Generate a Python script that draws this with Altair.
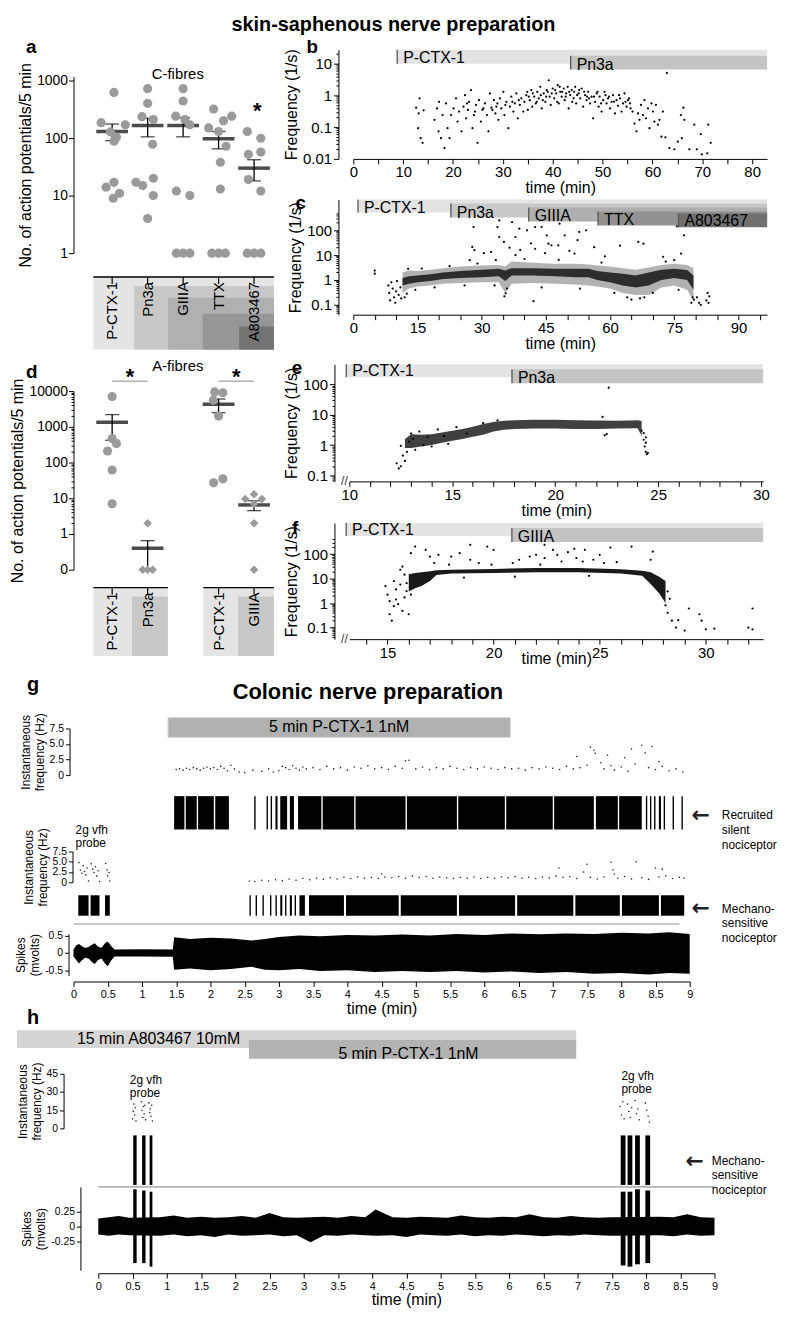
import altair as alt
import pandas as pd

ARIAL = "Liberation Sans, Arial, Helvetica, sans-serif"
ARROWF = "DejaVu Sans, Liberation Sans, sans-serif"

# ============================ DATA ============================
# ---- a: C-fibres, action potentials / 5 min
A_GROUPS = ["P-CTX-1", "Pn3a", "GIIIA", "TTX", "A803467"]
A_CAT = [1] * 10 + [2] * 10 + [3] * 10 + [4] * 11 + [5] * 9
A_JIT = [0.05, -0.31, 0.37, -0.05, 0.12, 0.05, 0.05, -0.17, 0.21, 0.03,
         0.0, 0.0, -0.16, 0.16, 0.14, 0.16, -0.33, -0.14, 0.16, 0.0,
         0.0, 0.0, -0.21, 0.05, 0.19, -0.19, 0.19, -0.19, 0.0, 0.19,
         -0.14, 0.37, 0.14, -0.28, 0.0, 0.21, 0.05, 0.05, -0.19, 0.0, 0.19,
         -0.19, 0.19, 0.19, -0.16, -0.16, 0.19, -0.19, 0.0, 0.19]
A_VAL = [620, 185, 170, 128, 104, 88, 17, 14, 11, 9,
         720, 400, 235, 210, 78, 20, 17, 15, 10, 4,
         720, 440, 240, 210, 170, 12, 10, 1, 1, 1,
         320, 240, 200, 150, 130, 72, 38, 13, 1, 1, 1,
         130, 99, 57, 52, 19, 12, 1, 1, 1]
A_MEAN = [130, 165, 165, 97, 30]
A_HI = [175, 220, 225, 130, 42]
A_LO = [90, 105, 105, 65, 18]

# ---- d: A-fibres
D_CAT = [1] * 6 + [2] * 4 + [4] * 6 + [5] * 6
D_JIT = [0, 0, 0.12, -0.13, 0, 0,
         0, -0.14, 0, 0.14,
         -0.11, 0.12, -0.15, 0, 0.12, -0.14,
         0, -0.25, 0.22, 0, 0, 0]
D_VAL = [7000, 470, 340, 210, 62, 7,
         2, 0, 0, 0,
         9500, 9000, 5500, 2000, 35, 27,
         13, 9.5, 9.5, 7, 2, 0]
D_MCAT = [1, 2, 4, 5]
D_LABELS = ["P-CTX-1", "Pn3a", "P-CTX-1", "GIIIA"]
D_MEAN = [1350, 0.4, 4300, 6.5]
D_HI = [2200, 0.65, 6000, 8.5]
D_LO = [420, 0, 2500, 4.5]

# ---- b: single C-fibre, frequency (1/s) vs time (min)
B_TREAT = ["P-CTX-1", "Pn3a"]
B_START = [8.8, 43.6]
B_PTS = [(12.6, 0.41), (13.3, 0.81), (13.1, 0.27), (13.0, 0.093), (13.5, 0.045), (13.9, 0.032), (14.1, 0.34),
         (16.3, 0.17), (16.8, 0.39), (17.1, 0.074), (17.2, 0.63), (17.6, 0.045), (17.9, 0.24), (18.3, 0.022),
         (18.6, 0.56), (18.9, 0.093), (19.3, 0.045), (19.6, 0.24), (20.1, 0.39), (20.6, 0.81), (20.9, 0.15),
         (21.2, 0.31), (21.7, 0.074), (22.1, 0.44), (22.4, 1.02), (22.6, 0.19), (23.0, 0.35), (23.2, 0.63),
         (23.6, 1.47), (23.9, 0.093), (24.2, 0.24), (24.6, 0.5), (24.9, 0.032), (25.2, 0.71), (25.6, 0.15),
         (25.9, 0.35), (26.4, 0.56), (26.8, 0.24), (27.1, 0.074), (27.4, 1.15), (27.7, 0.41), (28.2, 0.71),
         (28.5, 0.27), (28.9, 0.56), (29.1, 0.17), (29.4, 0.81), (29.7, 0.39), (30.1, 1.3), (30.3, 0.24),
         (30.7, 0.63), (31.1, 0.093), (31.4, 0.44), (31.7, 0.91), (32.1, 0.31), (32.4, 0.56), (32.7, 1.15),
         (33.0, 0.19), (33.4, 0.5), (33.7, 0.81), (34.1, 0.31), (34.3, 0.63), (34.7, 1.02), (35.0, 0.35),
         (35.4, 0.71), (35.7, 1.47), (35.9, 0.44), (36.3, 0.91), (36.6, 0.56), (36.9, 1.3), (37.2, 0.81),
         (37.5, 1.87), (37.8, 0.39), (38.2, 1.15), (38.5, 0.63), (38.8, 1.47), (39.2, 3.0), (39.4, 0.91),
         (39.6, 0.5), (40.0, 1.65), (40.3, 0.81), (40.7, 1.15), (41.0, 2.1), (41.2, 0.56), (41.5, 1.3),
         (41.8, 0.91), (42.2, 1.65), (42.4, 0.71), (42.7, 1.15), (43.0, 1.87), (43.2, 0.39), (43.5, 1.02),
         (43.8, 1.47), (44.2, 0.81), (44.5, 1.87), (44.7, 0.56), (45.2, 1.15), (45.5, 0.81), (45.8, 1.65),
         (46.1, 0.44), (46.5, 1.02), (46.8, 0.71), (47.1, 1.3), (47.5, 0.56), (47.8, 0.91), (48.1, 0.19),
         (48.5, 0.63), (48.8, 1.15), (49.2, 0.44), (49.4, 0.91), (49.8, 0.31), (50.1, 0.71), (50.4, 1.3),
         (50.8, 0.56), (51.1, 0.81), (51.5, 0.39), (51.8, 0.63), (52.1, 1.02), (52.5, 0.27), (52.8, 0.71),
         (53.1, 0.47), (53.5, 0.81), (53.8, 0.31), (54.1, 0.56), (54.4, 1.15), (54.8, 0.44), (55.1, 0.71),
         (55.3, 0.81), (55.6, 0.39), (56.0, 0.31), (56.4, 0.13), (56.8, 0.074), (57.1, 0.27), (57.4, 0.17),
         (57.7, 0.5), (58.1, 0.24), (58.4, 0.71), (58.7, 0.19), (59.1, 0.39), (59.4, 0.093), (59.8, 0.56),
         (60.1, 0.31), (60.4, 0.15), (60.7, 0.5), (61.1, 0.12), (61.4, 0.17), (61.8, 0.05), (62.1, 0.31),
         (62.6, 0.048), (62.9, 5.1), (63.4, 0.022), (64.4, 0.02), (65.1, 0.035), (65.7, 0.24), (66.2, 0.41),
         (66.4, 0.17), (65.9, 0.045), (67.4, 0.02), (68.4, 0.12), (68.9, 0.02), (69.7, 0.06), (69.9, 0.014),
         (71.0, 0.015), (71.2, 0.12), (71.7, 0.032),
         (34.9, 1.3), (35.2, 0.91), (36.0, 1.15), (36.8, 0.63), (37.6, 1.02), (38.0, 0.71), (38.7, 0.91),
         (39.0, 1.3), (39.8, 1.15), (40.5, 1.47), (40.9, 0.63), (41.4, 1.87), (41.9, 1.3), (42.6, 0.91),
         (43.3, 1.3), (43.9, 0.63), (44.3, 1.3), (44.9, 1.02), (45.3, 1.47), (46.3, 1.3), (46.9, 0.91),
         (47.3, 0.81), (48.3, 0.91), (49.0, 1.3), (49.7, 0.56), (50.6, 1.02), (51.3, 0.91), (52.3, 0.63),
         (53.3, 1.02), (54.6, 0.63), (55.5, 0.56), (30.5, 0.5), (31.9, 0.63), (33.2, 0.71), (28.7, 0.44),
         (27.9, 0.35), (26.1, 0.39), (24.4, 0.31), (22.8, 0.56)]

# ---- c: single C-fibre through five toxins
C_TREAT = ["P-CTX-1", "Pn3a", "GIIIA", "TTX", "A803467"]
C_START = [1.1, 22.8, 41.0, 57.2, 76.0]
# dense firing band: time, outer low, outer high, core low, core high
C_BAND = [(11.5, 0.3, 2.0, 0.6, 1.2), (13, 0.45, 2.4, 0.7, 1.4), (15, 0.55, 2.3, 0.8, 1.5),
          (18, 0.6, 2.6, 0.9, 1.7), (21, 0.7, 3.0, 1.1, 2.0), (25, 0.75, 3.5, 1.2, 2.3),
          (30, 0.8, 3.8, 1.3, 2.6), (34, 0.8, 4.0, 1.4, 2.8), (35.5, 0.3, 3.5, 0.9, 2.4),
          (37, 0.7, 5.5, 1.5, 3.0), (42, 0.75, 5.0, 1.5, 3.0), (47, 0.7, 4.5, 1.4, 2.8),
          (52, 0.65, 4.5, 1.3, 2.8), (55, 0.6, 4.2, 1.3, 2.8), (57, 0.55, 3.8, 1.0, 2.3),
          (60, 0.45, 3.5, 0.8, 2.0), (63, 0.3, 3.0, 0.6, 1.8), (66, 0.25, 2.6, 0.5, 1.5),
          (69, 0.25, 3.2, 0.6, 2.0), (72, 0.5, 4.0, 1.0, 2.6), (75, 0.6, 4.5, 1.2, 2.8),
          (78, 0.4, 4.0, 1.0, 2.5), (79.5, 0.15, 3.0, 0.4, 1.5)]
C_PTS = [(5.0, 2.4), (5.0, 1.8), (8.2, 0.6), (8.4, 0.3), (8.6, 0.15), (8.9, 0.8), (9.2, 0.45), (9.5, 0.2),
         (9.8, 0.12), (10.0, 0.35), (10.2, 0.9), (10.6, 0.25), (11.0, 0.5), (11.2, 0.18), (12.0, 0.2),
         (12.5, 0.28), (12.8, 2.8), (14.5, 0.4), (16.0, 2.9), (19.0, 0.5), (22.5, 3.6), (26.0, 0.6),
         (29.0, 4.6), (33.0, 0.6), (35.3, 0.22), (35.6, 0.29), (35.9, 0.45), (40.0, 7.0), (44.0, 0.5),
         (48.0, 6.5), (53.0, 0.45), (58.0, 5.0), (61.0, 0.3), (64.0, 0.2), (65.0, 0.16), (67.0, 0.18),
         (68.0, 0.2), (70.0, 0.3), (73.0, 5.5), (76.0, 0.4), (79.0, 0.12), (79.3, 0.2), (79.6, 0.16),
         (27.8, 21.5), (28.3, 15.8), (28.1, 136), (32.2, 13.6), (33.7, 136), (34.1, 250), (37.1, 215),
         (35.2, 34), (37.9, 54), (38.8, 117), (40.6, 100), (42.5, 136), (44.0, 136), (45.2, 63),
         (45.6, 29), (46.3, 25), (47.9, 25), (48.2, 185), (49.4, 63), (52.8, 86), (52.4, 40), (54.4, 100),
         (56.3, 21), (62.3, 24), (66.6, 34), (67.8, 29), (75.6, 145), (77.3, 63), (76.6, 11.6), (34.1, 54),
         (39.0, 16), (42.5, 18), (37.9, 10), (33.3, 6.3), (27.2, 6.3), (51.7, 11.6), (72.4, 8.6),
         (75.0, 6.3), (42.1, 0.14), (30.5, 12), (36.5, 20), (41.5, 30), (44.8, 12), (50.5, 15), (58.8, 9),
         (80.3, 0.2), (80.8, 0.12), (81.2, 0.1), (82.5, 0.15), (82.8, 0.3), (83.0, 0.12), (83.2, 0.22)]

# ---- e: A-fibre, P-CTX-1 then Pn3a
E_TREAT = ["P-CTX-1", "Pn3a"]
E_START = [9.85, 17.9]
E_BAND = [(12.7, 0.8, 1.6), (13.0, 0.8, 2.3), (13.5, 0.9, 2.2), (14.0, 1.0, 2.3), (14.5, 1.2, 2.6),
          (15.0, 1.4, 3.0), (15.5, 1.6, 3.4), (16.0, 1.9, 4.0), (16.5, 2.2, 5.0), (17.0, 2.8, 5.8),
          (17.5, 3.2, 6.3), (18.0, 3.4, 6.6), (19.0, 3.5, 6.8), (20.0, 3.5, 6.8), (21.0, 3.4, 6.6),
          (22.0, 3.4, 6.5), (23.0, 3.5, 6.4), (24.0, 3.6, 6.6), (24.2, 2.0, 6.2)]
E_PTS = [(12.3, 0.25), (12.4, 0.17), (12.5, 0.2), (12.6, 0.45), (12.7, 0.3), (12.5, 0.95), (12.9, 1.3),
         (13.2, 0.7), (13.0, 2.4), (13.4, 2.8), (13.6, 1.0), (14.3, 3.3), (15.2, 3.9), (14.0, 0.9),
         (14.8, 1.1), (22.6, 78), (22.3, 8.5), (22.4, 2.1), (22.5, 2.3), (24.3, 1.5), (24.35, 0.9),
         (24.4, 0.6), (24.45, 0.5), (24.3, 2.5), (24.4, 1.2), (24.5, 0.55), (24.2, 3.0), (24.4, 1.8),
         (16.5, 5.3), (17.2, 6.5), (12.8, 0.6), (13.1, 1.6), (13.8, 1.9), (14.6, 2.0), (15.7, 2.4)]

# ---- f: A-fibre, P-CTX-1 then GIIIA
F_TREAT = ["P-CTX-1", "GIIIA"]
F_START = [13.05, 20.86]
F_BAND = [(16.0, 3.0, 15), (16.3, 4.0, 17), (16.6, 5.0, 18), (17.0, 8.0, 20), (17.3, 14, 22), (18.0, 16, 23),
          (20.0, 17, 25), (22.0, 18, 27), (24.0, 18, 27), (26.0, 16, 24), (27.0, 13, 21), (27.4, 6, 18),
          (27.8, 2.5, 12), (28.1, 1.0, 8)]
F_PTS = [(14.9, 4.9), (15.0, 2.2), (15.1, 1.2), (15.1, 0.35), (15.2, 0.19), (15.3, 0.75), (15.4, 3.6),
         (15.4, 1.4), (15.6, 5.7), (15.7, 0.48), (15.8, 14.5), (15.9, 3.1), (16.0, 0.35), (15.7, 31),
         (15.6, 23), (15.8, 1.7), (15.5, 0.9), (15.3, 8), (15.9, 6.5), (16.1, 2.2),
         (16.1, 110), (16.3, 205), (16.8, 150), (17.0, 80), (17.4, 94), (17.2, 43), (18.0, 80), (17.9, 37),
         (18.4, 110), (18.9, 240), (18.9, 59), (19.3, 43), (19.7, 205), (20.0, 150), (19.9, 37), (20.9, 43),
         (21.2, 59), (21.7, 80), (22.0, 94), (22.2, 37), (22.4, 69), (22.4, 240), (22.8, 150), (23.0, 94),
         (23.2, 50), (23.5, 120), (23.8, 165), (23.9, 69), (24.2, 50), (24.3, 150), (24.7, 59), (25.0, 94),
         (25.2, 43), (25.5, 185), (25.8, 47), (26.5, 205), (27.5, 128), (27.4, 59), (18.6, 11), (21.0, 12),
         (24.5, 13), (28.2, 0.4), (28.4, 0.19), (28.6, 0.1), (28.7, 0.2), (29.2, 0.6), (29.7, 0.35),
         (29.8, 0.19), (30.0, 0.085), (30.4, 0.09), (32.0, 0.1), (32.2, 0.085), (32.2, 0.6), (29.0, 0.075),
         (28.3, 1.5), (28.1, 0.8), (28.2, 3.0)]

# ---- g: colonic nerve, P-CTX-1 1nM
G_TREAT = "5 min P-CTX-1 1nM"
G_TREAT_T = (1.38, 6.38)
G1_PTS = [(1.5, 0.9), (1.55, 1.0), (1.6, 0.8), (1.65, 1.1), (1.7, 0.9), (1.75, 1.2), (1.8, 1.0), (1.85, 0.8),
          (1.9, 1.1), (1.95, 1.3), (2.0, 1.0), (2.05, 1.2), (2.1, 0.9), (2.15, 1.4), (2.2, 1.1), (2.25, 0.7),
          (2.3, 1.6), (2.35, 1.0), (2.42, 0.5), (2.5, 0.4), (2.62, 0.8), (2.75, 0.6), (2.85, 1.0), (2.92, 0.5),
          (3.0, 0.7), (3.05, 1.4), (3.1, 1.2), (3.15, 0.9), (3.2, 1.5), (3.25, 1.1), (3.3, 0.8), (3.35, 1.3),
          (3.4, 1.0), (3.5, 1.2), (3.6, 0.9), (3.7, 1.4), (3.8, 1.0), (3.9, 1.2), (4.0, 0.8), (4.1, 1.3),
          (4.2, 1.1), (4.3, 1.5), (4.4, 1.0), (4.5, 1.2), (4.6, 0.9), (4.7, 1.4), (4.8, 1.1), (4.85, 2.3),
          (4.9, 2.4), (5.0, 1.0), (5.1, 1.3), (5.2, 0.9), (5.3, 1.2), (5.4, 1.0), (5.5, 1.4), (5.6, 1.1),
          (5.7, 0.9), (5.8, 1.2), (5.9, 1.0), (6.0, 1.3), (6.1, 1.1), (6.2, 0.9), (6.3, 1.2), (6.4, 1.0),
          (6.5, 1.1), (6.6, 0.8), (6.7, 1.2), (6.8, 1.0), (6.9, 1.3), (7.0, 1.1), (7.1, 0.9), (7.2, 1.4),
          (7.3, 1.0), (7.35, 3.0), (7.4, 1.2), (7.5, 1.6), (7.55, 4.5), (7.6, 4.0), (7.62, 3.5), (7.7, 2.0),
          (7.75, 1.0), (7.8, 3.2), (7.85, 1.5), (7.9, 0.8), (8.0, 1.3), (8.05, 2.8), (8.1, 0.6), (8.15, 4.2),
          (8.2, 1.8), (8.3, 4.8), (8.35, 3.6), (8.4, 1.2), (8.45, 4.6), (8.5, 0.9), (8.55, 2.2), (8.6, 1.4),
          (8.7, 0.7), (8.8, 1.0), (8.9, 0.5)]
G1_SPIKES = [(1.47, 1.62), (1.64, 1.80), (1.82, 2.05), (2.07, 2.27), (2.64, 2.66), (2.82, 2.84), (2.88, 2.90),
             (2.95, 2.98), (3.02, 3.12), (3.16, 3.22), (3.28, 3.62), (3.64, 4.10), (4.12, 4.85), (4.87, 5.60),
             (5.62, 6.30), (6.32, 7.00), (7.02, 7.60), (7.63, 7.95), (7.97, 8.30), (8.36, 8.38), (8.42, 8.44),
             (8.48, 8.50), (8.55, 8.58), (8.62, 8.64), (8.75, 8.77), (8.88, 8.90)]
G2_PTS = [(0.08, 4.8), (0.1, 3.0), (0.12, 2.2), (0.14, 4.0), (0.16, 2.6), (0.18, 1.8), (0.2, 3.5), (0.22, 0.3),
          (0.26, 4.5), (0.28, 3.2), (0.3, 2.4), (0.32, 3.8), (0.34, 1.5), (0.36, 2.8), (0.38, 0.2), (0.47, 4.6),
          (0.49, 3.0), (0.5, 1.6), (0.52, 2.4), (0.53, 0.3),
          (2.57, 0.3), (2.65, 0.2), (2.75, 0.5), (2.85, 0.3), (2.95, 0.6), (3.05, 0.4), (3.15, 0.8), (3.25, 0.5),
          (3.35, 0.9), (3.45, 0.6), (3.55, 1.0), (3.65, 0.7), (3.75, 1.1), (3.85, 0.8), (3.95, 1.2), (4.05, 0.9),
          (4.15, 1.3), (4.25, 1.0), (4.35, 1.2), (4.45, 0.9), (4.5, 2.0), (4.55, 1.3), (4.65, 1.1), (4.75, 1.4),
          (4.85, 1.0), (4.95, 1.5), (5.05, 1.2), (5.15, 1.4), (5.25, 1.0), (5.35, 1.3), (5.45, 1.1), (5.55, 0.9),
          (5.65, 1.2), (5.75, 1.0), (5.85, 1.3), (5.95, 0.9), (6.05, 1.2), (6.15, 1.0), (6.25, 1.3), (6.35, 1.1),
          (6.45, 1.4), (6.55, 1.0), (6.65, 1.2), (6.75, 0.9), (6.85, 1.3), (6.95, 1.1), (7.05, 1.5), (7.09, 3.5),
          (7.15, 1.2), (7.25, 1.4), (7.35, 0.9), (7.45, 2.5), (7.5, 4.4), (7.55, 1.2), (7.65, 0.8), (7.75, 1.3),
          (7.85, 4.9), (7.88, 3.0), (7.9, 2.0), (7.95, 1.0), (8.05, 1.4), (8.15, 0.8), (8.22, 5.0), (8.3, 1.1),
          (8.4, 0.7), (8.5, 3.5), (8.55, 1.3), (8.6, 3.2), (8.65, 1.6), (8.75, 0.9), (8.85, 1.2), (8.92, 1.0)]
G2_SPIKES = [(0.07, 0.22), (0.25, 0.38), (0.46, 0.53), (2.57, 2.59), (2.66, 2.68), (2.76, 2.78), (2.87, 2.89),
             (2.95, 2.97), (3.02, 3.05), (3.09, 3.11), (3.16, 3.19), (3.23, 3.25), (3.30, 3.38), (3.44, 3.95),
             (3.98, 4.75), (4.78, 5.60), (5.63, 6.45), (6.48, 7.30), (7.33, 7.98), (8.01, 8.55), (8.58, 8.92)]
# raw trace envelope: time, min, max (mV)
G_TRACE = [(0.00, -0.10, 0.10), (0.04, -0.20, 0.22), (0.08, -0.30, 0.26), (0.12, -0.22, 0.20), (0.17, -0.14, 0.14),
           (0.22, -0.16, 0.17), (0.27, -0.26, 0.24), (0.31, -0.32, 0.28), (0.36, -0.20, 0.18), (0.41, -0.16, 0.15),
           (0.46, -0.30, 0.28), (0.50, -0.38, 0.33), (0.55, -0.22, 0.20), (0.60, -0.10, 0.10), (1.00, -0.10, 0.11),
           (1.45, -0.11, 0.10), (1.47, -0.48, 0.45), (1.7, -0.45, 0.40), (2.0, -0.50, 0.44), (2.3, -0.46, 0.42),
           (2.6, -0.40, 0.36), (2.8, -0.48, 0.40), (3.0, -0.50, 0.46), (3.3, -0.46, 0.50), (3.6, -0.52, 0.48),
           (4.0, -0.50, 0.52), (4.4, -0.55, 0.50), (4.8, -0.52, 0.53), (5.2, -0.55, 0.50), (5.6, -0.52, 0.55),
           (6.0, -0.56, 0.52), (6.4, -0.53, 0.56), (6.8, -0.58, 0.54), (7.2, -0.55, 0.56), (7.6, -0.60, 0.55),
           (8.0, -0.58, 0.58), (8.4, -0.62, 0.56), (8.7, -0.58, 0.60), (9.0, -0.60, 0.55)]

# ---- h: colonic nerve, A803467 then P-CTX-1
H_TREAT = ["15 min A803467 10mM", "5 min P-CTX-1 1nM"]
H_TREAT_T = [(-1.19, 6.98), (2.2, 6.98)]
H_PTS = [(0.50, 8), (0.51, 14), (0.52, 20), (0.53, 11), (0.54, 17), (0.55, 6), (0.63, 22), (0.64, 15), (0.65, 9),
         (0.66, 18), (0.67, 12), (0.68, 19), (0.69, 7), (0.74, 21), (0.75, 13), (0.76, 16), (0.77, 10), (0.78, 19),
         (0.79, 6), (7.62, 18), (7.64, 11), (7.66, 22), (7.68, 8), (7.73, 20), (7.75, 14), (7.77, 9), (7.79, 17),
         (7.84, 23), (7.86, 12), (7.88, 16), (7.90, 7), (7.99, 21), (8.01, 15), (8.03, 10), (8.05, 5)]
H_SPIKES = [(0.51, 0.56), (0.64, 0.69), (0.75, 0.79), (7.63, 7.70), (7.73, 7.80), (7.84, 7.91), (7.99, 8.06)]
H_BURST_LO = [-0.62, -0.62, -0.68, -0.66, -0.68, -0.64, -0.62]
H_BURST_HI = [0.62, 0.60, 0.58, 0.58, 0.58, 0.62, 0.60]
H_TRACE = [(0.00, -0.14, 0.13), (0.15, -0.16, 0.15), (0.30, -0.14, 0.17), (0.45, -0.15, 0.14), (0.90, -0.16, 0.15),
           (1.10, -0.14, 0.18), (1.30, -0.17, 0.14), (1.50, -0.15, 0.16), (1.70, -0.18, 0.14), (1.90, -0.14, 0.15),
           (2.10, -0.16, 0.17), (2.30, -0.15, 0.14), (2.50, -0.14, 0.22), (2.70, -0.17, 0.15), (2.90, -0.15, 0.14),
           (3.10, -0.27, 0.15), (3.30, -0.15, 0.16), (3.50, -0.16, 0.14), (3.70, -0.14, 0.17), (3.90, -0.15, 0.15),
           (4.05, -0.16, 0.28), (4.30, -0.15, 0.15), (4.50, -0.18, 0.14), (4.70, -0.14, 0.16), (4.90, -0.15, 0.15),
           (5.10, -0.16, 0.14), (5.30, -0.14, 0.18), (5.50, -0.17, 0.15), (5.70, -0.15, 0.14), (5.90, -0.16, 0.16),
           (6.10, -0.14, 0.15), (6.30, -0.15, 0.20), (6.50, -0.17, 0.15), (6.70, -0.15, 0.14), (6.90, -0.16, 0.17),
           (7.10, -0.14, 0.15), (7.30, -0.15, 0.14), (7.50, -0.16, 0.15), (8.20, -0.15, 0.16), (8.40, -0.17, 0.15),
           (8.60, -0.14, 0.20), (8.80, -0.16, 0.15), (9.00, -0.15, 0.14)]

# ============================ helpers ============================
MAJ = "abs(log(datum.value)/LN10 - round(log(datum.value)/LN10)) < 0.01"


def style(font=ARIAL, ls=15, ts=16):
    return dict(labelFont=font, labelFontSize=ls, labelColor="black", titleFont=font, titleFontSize=ts,
                titleFontWeight="normal", titleColor="black", domainColor="black", tickColor="black",
                grid=False, labelOverlap=False, labelFlush=False)


def log_vals(lo, hi):
    out = []
    for k in range(-3, 5):
        for m in range(1, 10):
            v = round(m * 10.0 ** k, 6)
            if lo <= v <= hi:
                out.append(v)
    return out


def log_axis(lo, hi, title, offset=15):
    return alt.Axis(values=log_vals(lo, hi), format="~g", labelExpr=f"({MAJ}) ? datum.label : ''",
                    tickSize={"condition": {"test": MAJ, "value": 5}, "value": 2.5},
                    title=title, offset=offset, titlePadding=3, labelPadding=2, **style(ARIAL, 15, 16))


def time_axis(vals, every, tpad):
    return alt.Axis(values=vals, format="~g", labelExpr=f"datum.value % {every} == 0 ? datum.label : ''",
                    title="time (min)", tickSize=5, labelPadding=1, titlePadding=tpad, **style(ARIAL, 15, 16))


def cols(pts):
    return [p[0] for p in pts], [p[1] for p in pts]


def spacer(w, h):
    sc = alt.Scale(domain=[0, 1])
    return alt.Chart(pd.DataFrame({"s": [0.5]})).mark_point(opacity=0, size=1).encode(
        x=alt.X("s:Q", axis=None, scale=sc), y=alt.Y("s:Q", axis=None, scale=sc)).properties(width=w, height=h)


def text_layer(x, y, txt, **kw):
    def f(X, Y):
        df = pd.DataFrame({"x": [x], "y": [y], "t": [txt]})
        return alt.Chart(df).mark_text(**kw).encode(x=X("x"), y=Y("y"), text="t:N")
    return f


def rule_layer(x0, x1, y, **kw):
    def f(X, Y):
        df = pd.DataFrame({"x": [x0], "x1": [x1], "y": [y]})
        return alt.Chart(df).mark_rule(**kw).encode(x=X("x"), x2="x1", y=Y("y"))
    return f


def rect_layer(x0s, x1s, y0s, y1s, col, **kw):
    def f(X, Y):
        df = pd.DataFrame({"x0": x0s, "x1": x1s, "y0": y0s, "y1": y1s})
        return alt.Chart(df).mark_rect(color=col, **kw).encode(x=X("x0"), x2="x1", y=Y("y0"), y2="y1")
    return f


# ============================ panels a & d (dot plots) ============================
CATX = alt.Scale(domain=[-0.09, 5.56], nice=False, zero=False)


def dot_panel(cats, jits, vals, mcat, mean, hi, lo, ydom, yvals, label_expr, height, extra, diamonds=()):
    ys = alt.Scale(type="log", domain=ydom, nice=False)
    yax = alt.Axis(values=yvals, format="~g", labelExpr=label_expr,
                   tickSize={"condition": {"test": MAJ, "value": 5}, "value": 2.5},
                   title="No. of action potentials/5 min", titlePadding=3, labelPadding=1,
                   **style(ARIAL, 14, 16))
    X = lambda f: alt.X(f, type="quantitative", scale=CATX, axis=None)
    Y = lambda f: alt.Y(f, type="quantitative", scale=ys, axis=yax)
    pts = pd.DataFrame({"cat": cats, "jit": jits, "v": vals,
                        "shape": ["diamond" if c in diamonds else "circle" for c in cats]})
    base = alt.Chart(pts).transform_calculate(px="datum.cat + datum.jit",
                                              pv="datum.v == 0 ? 0.1 : datum.v")
    circ = base.transform_filter("datum.shape == 'circle'").mark_point(
        shape="circle", filled=True, size=85, color="#9a9a9a", opacity=1).encode(x=X("px"), y=Y("pv"))
    diam = base.transform_filter("datum.shape == 'diamond'").mark_point(
        shape="diamond", filled=True, size=75, color="#9a9a9a", opacity=1).encode(x=X("px"), y=Y("pv"))
    st = pd.DataFrame({"cat": mcat, "m": mean, "hi": hi, "lo": lo})
    stb = alt.Chart(st).transform_calculate(lo2="datum.lo == 0 ? 0.1 : datum.lo")
    err = stb.mark_rule(color="black", strokeWidth=1.3).encode(x=X("cat"), y=Y("lo2"), y2="hi")
    caph = stb.mark_tick(orient="horizontal", size=14, thickness=1.3, color="black").encode(x=X("cat"), y=Y("hi"))
    capl = stb.mark_tick(orient="horizontal", size=14, thickness=1.3, color="black").encode(x=X("cat"), y=Y("lo2"))
    mline = stb.mark_tick(orient="horizontal", size=32, thickness=3.5, color="black").encode(x=X("cat"), y=Y("m"))
    layers = [err, caph, capl, mline, circ, diam] + [e(X, Y) for e in extra]
    return alt.layer(*layers).properties(width=202, height=height)


a_chart = dot_panel(
    A_CAT, A_JIT, A_VAL, [1, 2, 3, 4, 5], A_MEAN, A_HI, A_LO, [1, 1170], [1, 10, 100, 1000],
    "datum.label", 178,
    [text_layer(2.85, 1300, "C-fibres", fontSize=15, font=ARIAL, baseline="middle"),
     text_layer(5.09, 290, "*", fontSize=22, font=ARIAL, fontWeight="bold", baseline="middle"),
     text_layer(-1.43, 3855, "a", fontSize=19, font=ARIAL, fontWeight="bold", align="left", baseline="middle")])

d_chart = dot_panel(
    D_CAT, D_JIT, D_VAL, D_MCAT, D_MEAN, D_HI, D_LO, [0.1, 10000], [0.1] + log_vals(1, 10000),
    f"datum.value < 0.5 ? '0' : (({MAJ}) ? datum.label : '')", 180,
    [text_layer(2.85, 49400, "A-fibres", fontSize=15, font=ARIAL, baseline="middle"),
     rule_layer(1, 2, 19000, color="#888888", strokeWidth=1),
     rule_layer(4, 5, 19000, color="#888888", strokeWidth=1),
     text_layer(1.5, 25000, "*", fontSize=22, font=ARIAL, fontWeight="bold", baseline="middle"),
     text_layer(4.5, 25000, "*", fontSize=22, font=ARIAL, fontWeight="bold", baseline="middle"),
     text_layer(-1.43, 35240, "d", fontSize=19, font=ARIAL, fontWeight="bold", align="left", baseline="middle")],
    diamonds=(2, 5))


def box_panel(x0s, x1s, tops, colors, labels, label_x, height, axis_segments):
    ys = alt.Scale(domain=[height, 0], nice=False, zero=False)
    X = lambda f: alt.X(f, type="quantitative", scale=CATX, axis=None)
    Y = lambda f: alt.Y(f, type="quantitative", scale=ys, axis=None)
    bx = pd.DataFrame({"x0": x0s, "x1": x1s, "y0": tops, "y1": [height] * len(x0s), "col": colors})
    rects = alt.Chart(bx).mark_rect().encode(x=X("x0"), x2="x1", y=Y("y0"), y2="y1",
                                             color=alt.Color("col:N", scale=None))
    sg = pd.DataFrame({"x0": [s[0] for s in axis_segments], "x1": [s[1] for s in axis_segments],
                       "y": [0] * len(axis_segments)})
    line = alt.Chart(sg).mark_rule(color="black", strokeWidth=1.3).encode(x=X("x0"), x2="x1", y=Y("y"))
    lb = pd.DataFrame({"x": label_x, "lab": labels, "y0": [0] * len(labels), "y1": [7] * len(labels),
                       "ly": [5] * len(labels)})
    ticks = alt.Chart(lb).mark_rule(color="black", strokeWidth=1.2).encode(x=X("x"), y=Y("y0"), y2="y1")
    txt = alt.Chart(lb).mark_text(angle=270, align="right", baseline="middle", fontSize=15, font=ARIAL,
                                  color="black").encode(x=X("x"), y=Y("ly"), text="lab:N")
    return alt.layer(rects, line, ticks, txt).properties(width=202, height=height)


a_boxes = box_panel([0.47, 1.62, 2.58, 3.55, 4.58], [5.56] * 5, [0, 9, 21, 37, 50],
                    ["#e4e4e4", "#c8c8c8", "#b0b0b0", "#969696", "#737373"], A_GROUPS, [1, 2, 3, 4, 5], 73,
                    [(0.47, 5.56)])
d_boxes = box_panel([0.47, 1.56, 3.57, 4.55], [2.57, 2.57, 5.56, 5.56], [0, 9, 0, 9],
                    ["#e4e4e4", "#c8c8c8", "#e4e4e4", "#c8c8c8"], D_LABELS, D_MCAT, 69,
                    [(0.47, 2.57), (3.57, 5.56)])


# ============================ panels b, c, e, f (frequency vs time) ============================
def freq_panel(xdom, ydom, height, yrng, xvals, every, pts, treat, starts, geo, letter,
               band=None, band_op=0.8, core=None, tpad=0, brk=False):
    xs = alt.Scale(domain=xdom, nice=False, zero=False)
    ys = alt.Scale(type="log", domain=ydom, nice=False)
    yax = log_axis(yrng[0], yrng[1], "Frequency (1/s)")
    xax = time_axis(xvals, every, tpad)
    X = lambda f: alt.X(f, type="quantitative", scale=xs, axis=xax)
    Y = lambda f: alt.Y(f, type="quantitative", scale=ys, axis=yax)
    tdf = pd.DataFrame({"x0": starts, "x1": [xdom[1]] * len(starts), "y0": [g[0] for g in geo],
                        "y1": [g[1] for g in geo], "ly": [g[2] for g in geo], "col": [g[3] for g in geo],
                        "lab": treat})
    layers = [
        alt.Chart(tdf).mark_rect().encode(x=X("x0"), x2="x1", y=Y("y0"), y2="y1",
                                          color=alt.Color("col:N", scale=None)),
        alt.Chart(tdf).mark_rule(color="#555555", strokeWidth=1.3).encode(x=X("x0"), y=Y("y0"), y2="y1"),
        alt.Chart(tdf).mark_text(align="left", baseline="middle", dx=6, fontSize=16, font=ARIAL,
                                 color="black").encode(x=X("x0"), y=Y("ly"), text="lab:N"),
    ]
    if band is not None:
        bdf = pd.DataFrame({"t": [b[0] for b in band], "lo": [b[1] for b in band], "hi": [b[2] for b in band]})
        layers.append(alt.Chart(bdf).mark_area(color="black", opacity=band_op).encode(
            x=X("t"), y=Y("lo"), y2="hi"))
    if core is not None:
        cdf = pd.DataFrame({"t": [b[0] for b in core], "lo": [b[3] for b in core], "hi": [b[4] for b in core]})
        layers.append(alt.Chart(cdf).mark_area(color="black", opacity=0.75).encode(
            x=X("t"), y=Y("lo"), y2="hi"))
    t, f = cols(pts)
    layers.append(alt.Chart(pd.DataFrame({"t": t, "f": f})).mark_circle(size=5, color="black", opacity=1).encode(
        x=X("t"), y=Y("f")))
    layers.append(text_layer(letter[0], letter[1], letter[2], fontSize=19, fontWeight="bold", font=ARIAL,
                             align="left", baseline="middle")(X, Y))
    if brk:
        # axis-break mark at the start of the time axis
        layers.append(text_layer(xdom[0], ydom[0], "//", fontSize=12, font=ARIAL, baseline="middle",
                                 dx=-5, color="#333333")(X, Y))
    return alt.layer(*layers).properties(width=417, height=height)


b_chart = freq_panel([0, 83], [0.01, 27.4], 110, (0.01, 20), list(range(0, 85, 5)), 10, B_PTS, B_TREAT, B_START,
                     [(27.4, 10, 14.5, "#e3e3e3"), (17.8, 6.5, 9.3, "#c4c4c4")], (-9.4, 33.9, "b"))
c_chart = freq_panel([0, 96.7], [0.0398, 1738], 116, (0.05, 500), list(range(0, 96, 5)), 15, C_PTS, C_TREAT,
                     C_START,
                     [(1738, 525, 759, "#e3e3e3"), (1202, 331, 510, "#c8c8c8"), (832, 229, 363, "#afafaf"),
                      (575, 158, 251, "#919191"), (479, 132, 235, "#707070")], (-13.5, 1318, "c"),
                     band=C_BAND, band_op=0.3, core=C_BAND)
e_chart = freq_panel([10, 30.1], [0.0636, 461], 118, (0.07, 100), list(range(10, 31)), 5, E_PTS, E_TREAT, E_START,
                     [(461, 173, 272, "#e3e3e3"), (317, 110, 164, "#c4c4c4")], (7.2, 341, "e"),
                     band=E_BAND, band_op=0.75, brk=True)
f_chart = freq_panel([13.2, 32.7], [0.0335, 1862], 117, (0.04, 400), list(range(14, 33)), 5, F_PTS, F_TREAT,
                     F_START,
                     [(1862, 553, 967, "#e3e3e3"), (1165, 315, 517, "#c4c4c4")], (10.5, 1165, "f"),
                     band=F_BAND, band_op=0.9, tpad=-9, brk=True)

# ============================ panels g & h (colonic nerve) ============================
GXS = alt.Scale(domain=[0, 9], nice=False, zero=False)
T_VALS = [i * 0.5 for i in range(19)]
SIGNED = "datum.value < 0 ? '-' + format(abs(datum.value), '~g') : format(datum.value, '~g')"
ONE_DEC = "datum.value == 0 ? '0' : format(datum.value, '.1f')"


def gx(axis=None):
    return lambda f: alt.X(f, type="quantitative", scale=GXS, axis=axis)


def narrow_y(values, title, offset, expr):
    return alt.Axis(values=values, title=title, offset=offset, tickSize=4, labelPadding=2, titlePadding=3,
                    labelExpr=expr, **style(ARIAL, 10.5, 12))


def x_time_axis(offset):
    return alt.Axis(values=T_VALS, labelExpr="format(datum.value, '~g')", title="time (min)", offset=offset,
                    tickSize=5, labelPadding=2, titlePadding=1, **style(ARIAL, 11, 16))


def freq_chart(pts, ydom, yvals, expr, offset, height, extra):
    ys = alt.Scale(domain=ydom, nice=False, zero=False)
    Y = lambda f: alt.Y(f, type="quantitative", scale=ys,
                        axis=narrow_y(yvals, ["Instantaneous", "frequency (Hz)"], offset, expr))
    X = gx()
    t, f = cols(pts)
    dots = alt.Chart(pd.DataFrame({"t": t, "f": f})).mark_circle(size=2.5, color="#222222", opacity=1).encode(
        x=X("t"), y=Y("f"))
    return alt.layer(*([e(X, Y) for e in extra] + [dots])).properties(width=621, height=height)


def unit_chart(spikes, y0, y1, height, label, arrow_x, text_x, label_y, sep=None):
    ys = alt.Scale(domain=[-1, 1], nice=False, zero=False)
    X = gx()
    Y = lambda f: alt.Y(f, type="quantitative", scale=ys, axis=None)
    s0, s1 = cols(spikes)
    layers = [rect_layer(s0, s1, [y0] * len(s0), [y1] * len(s0), "black")(X, Y)]
    if sep is not None:
        layers.append(rule_layer(sep[0], sep[1], sep[2], color="#b5b5b5", strokeWidth=1.6)(X, Y))
    layers.append(text_layer(arrow_x, label_y, "\u2190", fontSize=22, font=ARROWF, fontWeight="bold",
                             baseline="middle", color="#222222")(X, Y))
    layers.append(text_layer(text_x, label_y, label, fontSize=12, font=ARIAL, align="left", baseline="middle",
                             lineBreak="\n", lineHeight=15)(X, Y))
    return alt.layer(*layers).properties(width=621, height=height)


def trace_chart(trace, ydom, yvals, offset, x_offset, height, bursts=None, extra=()):
    ys = alt.Scale(domain=ydom, nice=False, zero=False)
    X = gx(x_time_axis(x_offset))
    Y = lambda f: alt.Y(f, type="quantitative", scale=ys,
                        axis=narrow_y(yvals, ["Spikes", "(mvolts)"], offset, SIGNED))
    df = pd.DataFrame({"t": [p[0] for p in trace], "lo": [p[1] for p in trace], "hi": [p[2] for p in trace]})
    layers = [alt.Chart(df).mark_area(color="black", opacity=1).encode(x=X("t"), y=Y("lo"), y2="hi")]
    if bursts is not None:
        layers.append(rect_layer(bursts[0], bursts[1], bursts[2], bursts[3], "black")(X, Y))
    layers += [e(X, Y) for e in extra]
    return alt.layer(*layers).properties(width=621, height=height)


LBL = dict(font=ARIAL, baseline="middle")

g_freq1 = freq_chart(
    G1_PTS, [0, 7.5], [0, 2.5, 5, 7.5], ONE_DEC, 4, 47,
    [rect_layer([G_TREAT_T[0]], [G_TREAT_T[1]], [9.25], [6.06], "#b0b0b0", stroke="#d6d6d6", strokeWidth=1),
     text_layer((G_TREAT_T[0] + G_TREAT_T[1]) / 2, 7.66, G_TREAT, fontSize=16, **LBL),
     text_layer(4.3, 13.4, "Colonic nerve preparation", fontSize=22, fontWeight="bold", **LBL),
     text_layer(-0.68, 14.5, "g", fontSize=20, fontWeight="bold", align="left", **LBL)])
g_unit1 = unit_chart(G1_SPIKES, 0.607, -0.571, 57, "Recruited\nsilent\nnociceptor", 9.16, 9.47, -0.07)
g_freq2 = freq_chart(
    G2_PTS, [0, 7.5], [0, 2.5, 5, 7.5], ONE_DEC, 1, 31,
    [text_layer(0.03, 12.8, "2g vfh\nprobe", fontSize=12, align="left", lineBreak="\n", lineHeight=13, **LBL)])
g_unit2 = unit_chart(G2_SPIKES, 0.806, -0.48, 32, "Mechano-\nsensitive\nnociceptor", 9.16, 9.47, -0.03,
                     sep=(0, 8.85, -1))
g_trace = trace_chart(G_TRACE, [-0.65, 0.55], [-0.5, 0, 0.5], 5, 6, 42,
                      extra=[text_layer(-0.68, -1.88, "h", fontSize=20, fontWeight="bold", align="left", **LBL)])

h_freq = freq_chart(
    H_PTS, [0, 45], [0, 15, 30, 45], "format(datum.value, '~g')", 35, 55,
    [rect_layer([H_TREAT_T[0][0]], [H_TREAT_T[0][1]], [81], [66.3], "#d5d5d5"),
     rect_layer([H_TREAT_T[1][0]], [H_TREAT_T[1][1]], [72.8], [57.3], "#b3b3b3"),
     text_layer(0.88, 73.6, H_TREAT[0], fontSize=16, **LBL),
     text_layer(4.53, 61.4, H_TREAT[1], fontSize=16, **LBL),
     text_layer(0.46, 39.7, "2g vfh\nprobe", fontSize=12, align="left", lineBreak="\n", lineHeight=13, **LBL),
     text_layer(7.64, 43.4, "2g vfh\nprobe", fontSize=12, align="left", lineBreak="\n", lineHeight=13, **LBL)])
h_unit = unit_chart(H_SPIKES, 0.815, -1.0, 55, "Mechano-\nsensitive\nnociceptor", 8.71, 8.96, -0.11,
                    sep=(0, 9, -1.07))
hb0, hb1 = cols(H_SPIKES)
h_trace = trace_chart(H_TRACE, [-0.74, 0.66], [-0.25, 0, 0.25], 18, 3, 84,
                      bursts=(hb0, hb1, H_BURST_LO, H_BURST_HI))

# ============================ layout ============================
R = dict(x="independent", y="independent")

a_col = alt.vconcat(spacer(202, 3), a_chart, a_boxes, spacing=24, bounds="flush").resolve_scale(**R)
bc_col = alt.vconcat(b_chart, c_chart, spacing=41, bounds="flush").resolve_scale(**R)
row1 = alt.hconcat(a_col, bc_col, spacing=8).resolve_scale(**R)

d_col = alt.vconcat(spacer(202, 9), d_chart, d_boxes, spacing=18, bounds="flush").resolve_scale(**R)
ef_col = alt.vconcat(e_chart, f_chart, spacing=42, bounds="flush").resolve_scale(**R)
row2 = alt.hconcat(d_col, ef_col, spacing=8).resolve_scale(**R)

upper = alt.vconcat(row1, row2, spacing=8).resolve_scale(**R)

g_block = alt.vconcat(g_freq1, g_unit1, g_freq2, g_unit2, g_trace, spacing=10, bounds="flush").resolve_scale(**R)
h_inner = alt.vconcat(h_freq, h_unit, h_trace, spacing=2, bounds="flush").resolve_scale(**R)
# h plot sits 25 px right of the g plot: the spacing offsets h's own left overhang (the A803467 bar)
h_block = alt.hconcat(spacer(1, 1), h_inner, spacing=-59).resolve_scale(**R)
lower = alt.vconcat(g_block, h_block, spacing=1).resolve_scale(**R)

chart = alt.vconcat(upper, lower, spacing=8).resolve_scale(**R).properties(
    title=alt.TitleParams("skin-saphenous nerve preparation", fontSize=20, fontWeight="bold", font=ARIAL,
                          anchor="middle", offset=3, color="black"),
    padding={"left": 2, "top": 1, "right": 2, "bottom": 1},
).configure(font=ARIAL).configure_view(stroke="transparent", strokeWidth=0)

chart.save("out.html", embed_options={"renderer": "svg", "actions": False})
